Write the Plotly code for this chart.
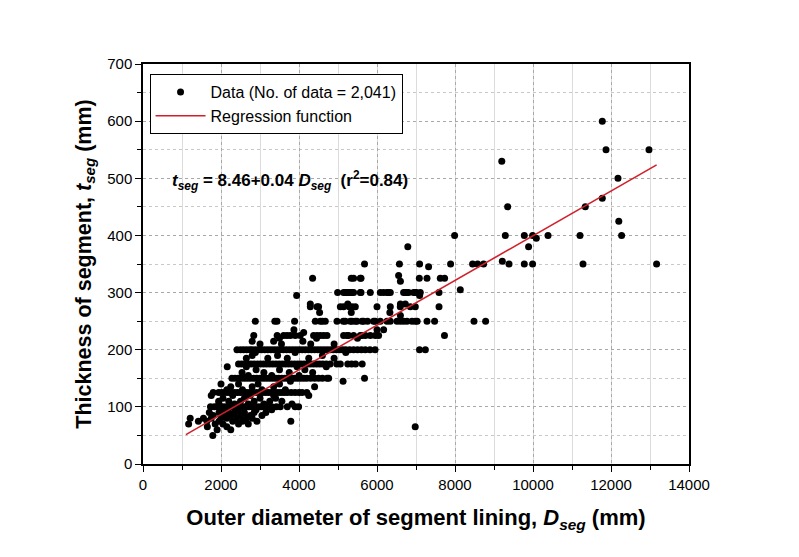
import plotly.graph_objects as go

# ---- data: outer diameter D (mm) grouped by segment thickness t (mm) ----
t_050 = [1790]
t_060 = [1900, 2250]
t_065 = [1650, 2150, 6980]
t_070 = [1170, 1850, 2050, 2450, 2700]
t_075 = [1420, 1640, 1950, 2300, 2550, 2920, 3790]
t_080 = [1210, 1550, 1750, 2000, 2150, 2400, 2650, 2800]
t_085 = [1800, 2100, 2250, 2500, 2750, 3050]
t_090 = [1700, 1950, 2200, 2350, 2600, 2850, 3150]
t_095 = [2050, 2450, 2900, 3300]
t_100 = [1730, 1830, 1900, 2000, 2080, 2160, 2240, 2320, 2400, 2480, 2560, 2640,
         2720, 2800, 2880, 2960, 3040, 3120, 3200, 3300, 3420, 3520, 3700, 3900, 3990]
t_105 = [1950, 2350, 2700, 3100, 3820]
t_110 = [1940, 2200, 2500, 2850, 3250, 3560]
t_115 = [2050, 2600, 3000, 3400]
t_120 = [1750, 2300, 2750, 3350, 4250]
t_125 = [1800, 1940, 2020, 2100, 2180, 2260, 2340, 2420, 2500, 2580, 2660, 2740,
         2820, 2900, 2980, 3060, 3140, 3220, 3300, 3380, 3460, 3540, 3620, 3700,
         3800, 3900, 4000, 4080, 4200]
t_130 = [2150, 2550, 3050, 3650]
t_135 = [2250, 2800, 3350, 4400]
t_140 = [2000, 2450, 2950, 3500]
t_145 = [3780, 5130]
t_150 = [2280, 2360, 2440, 2520, 2600, 2680, 2760, 2840, 2920, 3000, 3080, 3160,
         3240, 3320, 3400, 3480, 3560, 3640, 3720, 3800, 3880, 3960, 4040, 4120,
         4200, 4300, 4400, 4500, 4600, 4720, 4760, 5680]
t_155 = [2700, 3300, 4000]
t_160 = [2540, 3100, 3750, 4350]
t_165 = [2900, 3500, 4150]
t_170 = [2160, 2650, 3950, 4700]
t_175 = [2450, 2530, 2610, 2690, 2770, 2850, 2930, 3010, 3090, 3170, 3250, 3330,
         3410, 3490, 3570, 3650, 3730, 3810, 3890, 3970, 4050, 4130, 4210, 4290,
         4370, 4450, 4530, 4610, 4700, 4800, 4970, 5060, 5250, 5350, 5450, 5620]
t_185 = [2650, 3200, 3700, 4250, 4900]
t_190 = [2800, 3450, 4600]
t_195 = [2880, 3900, 5200]
t_200 = [2410, 2500, 2580, 2660, 2740, 2800, 2880, 2960, 3040, 3120, 3200, 3280,
         3360, 3440, 3520, 3600, 3680, 3760, 3840, 3920, 4000, 4080, 4160, 4240,
         4320, 4400, 4480, 4560, 4640, 4720, 4800, 4880, 4960, 5040, 5120, 5200,
         5300, 5400, 5500, 5600, 5700, 5820, 5950, 7090, 7240]
t_210 = [3000, 3550, 4300, 4900]
t_215 = [2800, 3350, 4100]
t_220 = [3500, 4450, 5500]
t_225 = [2840, 3440, 3605, 3692, 3777, 3905, 4033, 4374, 4462, 4546, 4631, 4718,
         5144, 5231, 5272, 5400, 5572, 5615, 5700, 5828, 5956, 6041, 7730]
t_230 = [4120]
t_235 = [3870, 6000, 6170]
t_250 = [2880, 3380, 3436, 3887, 4418, 4546, 4600, 4674, 4974, 5136, 5187, 5315,
         5359, 5444, 5487, 5615, 5656, 5758, 5913, 5956, 6085, 6256, 6341, 6513,
         6600, 6682, 6769, 6897, 6982, 7030, 7282, 7477, 8487, 8785]
t_260 = [6600]
t_265 = [4528, 5340, 6330]
t_275 = [4290, 4462, 4503, 5060, 5144, 5290, 5359, 5444, 6000, 6341, 6597, 6854,
         6982, 7590]
t_280 = [4290, 5250, 6600, 6726]
t_295 = [3940, 7092]
t_300 = [4990, 5144, 5187, 5231, 5272, 5315, 5359, 5400, 5572, 5590, 5828, 6085,
         6169, 6256, 6297, 6341, 6682, 6726, 6769, 6810, 6938, 6982, 7008, 7110, 7590]
t_305 = [8136]
t_320 = [6600]
t_325 = [4349, 5340, 5400, 5572, 5590, 7085, 7282, 7623, 7733]
t_330 = [6554]
t_345 = [7323]
t_350 = [5680, 6575, 7092, 7887, 8451, 8580, 8733, 9385, 9777, 9990, 11282, 13169]
t_355 = [9213]
t_380 = [6790, 9887]
t_395 = [10085]
t_400 = [7990, 9290, 9777, 9990, 10385, 11205, 12272]
t_425 = [12200]
t_450 = [9350, 11341]
t_465 = [11777]
t_500 = [12179]
t_530 = [9200]
t_550 = [11872, 12974]
t_600 = [11777]

thickness_levels = [50, 60, 65, 70, 75, 80, 85, 90, 95, 100, 105, 110, 115, 120, 125,
                    130, 135, 140, 145, 150, 155, 160, 165, 170, 175, 185, 190, 195,
                    200, 210, 215, 220, 225, 230, 235, 250, 260, 265, 275, 280, 295,
                    300, 305, 320, 325, 330, 345, 350, 355, 380, 395, 400, 425, 450,
                    465, 500, 530, 550, 600]
diameter_groups = [t_050, t_060, t_065, t_070, t_075, t_080, t_085, t_090, t_095,
                   t_100, t_105, t_110, t_115, t_120, t_125, t_130, t_135, t_140,
                   t_145, t_150, t_155, t_160, t_165, t_170, t_175, t_185, t_190,
                   t_195, t_200, t_210, t_215, t_220, t_225, t_230, t_235, t_250,
                   t_260, t_265, t_275, t_280, t_295, t_300, t_305, t_320, t_325,
                   t_330, t_345, t_350, t_355, t_380, t_395, t_400, t_425, t_450,
                   t_465, t_500, t_530, t_550, t_600]

# regression line (as drawn)
reg_intercept = 8.46
reg_slope = 0.0391
reg_range = [1100, 13170]

x_ticks = [0, 2000, 4000, 6000, 8000, 10000, 12000, 14000]
y_ticks = [0, 100, 200, 300, 400, 500, 600, 700]

D_all, t_all = [], []
for t, ds in zip(thickness_levels, diameter_groups):
    for d in ds:
        D_all.append(d)
        t_all.append(t)

reg_y = [reg_intercept + reg_slope * d for d in reg_range]

FONT = "Liberation Sans, Arial, sans-serif"

fig = go.Figure()
fig.add_trace(go.Scatter(
    x=D_all, y=t_all, mode="markers",
    marker=dict(color="black", size=7, line=dict(width=0)),
    name="Data (No. of data = 2,041)",
))
fig.add_trace(go.Scatter(
    x=reg_range, y=reg_y, mode="lines",
    line=dict(color="#d0202a", width=1.6),
    name="Regression function",
))

fig.add_annotation(
    x=700, y=496, xref="x", yref="y", xanchor="left", yanchor="middle",
    text=("<b><i>t</i><sub><i>seg</i></sub> = 8.46+0.04 <i>D</i><sub><i>seg</i></sub>"
          "  (r<sup>2</sup>=0.84)</b>"),
    showarrow=False, font=dict(family=FONT, size=17, color="black"),
)

axis_common = dict(
    showline=True, linecolor="black", linewidth=1.5, mirror=True,
    ticks="outside", ticklen=6, tickwidth=1.3, tickcolor="black",
    showgrid=True, gridcolor="#a8a8a8", gridwidth=1, griddash="dot",
    zeroline=False,
    tickfont=dict(family=FONT, size=15, color="black"),
)

fig.update_xaxes(
    range=[0, 14000], tickvals=x_ticks, ticktext=[str(v) for v in x_ticks],
    minor=dict(dtick=1000, tick0=0, ticks="outside", ticklen=4, tickcolor="black",
               showgrid=True, gridcolor="#dcdcdc", gridwidth=1, griddash="solid"),
    title=dict(text="<b>Outer diameter of segment lining, <i>D</i><sub><i>seg</i></sub> (mm)</b>",
               font=dict(family=FONT, size=22, color="black"), standoff=18),
    **axis_common,
)
fig.update_yaxes(
    range=[0, 700], tickvals=y_ticks, ticktext=[str(v) for v in y_ticks],
    minor=dict(dtick=50, tick0=0, ticks="outside", ticklen=4, tickcolor="black",
               showgrid=True, gridcolor="#c8c8c8", gridwidth=1, griddash="dot"),
    title=dict(text="<b>Thickness of segment, <i>t</i><sub><i>seg</i></sub> (mm)</b>",
               font=dict(family=FONT, size=21.5, color="black"), standoff=10),
    **axis_common,
)

fig.update_layout(
    width=799, height=557,
    margin=dict(l=143, r=110, t=64, b=93),
    paper_bgcolor="white", plot_bgcolor="white",
    font=dict(family=FONT, color="black"),
    legend=dict(
        x=0.012, y=0.975, xanchor="left", yanchor="top",
        bgcolor="white", bordercolor="black", borderwidth=1,
        font=dict(family=FONT, size=16, color="black"),
        tracegroupgap=0, itemwidth=50,
    ),
    showlegend=True,
)

fig.write_html("out.html")
